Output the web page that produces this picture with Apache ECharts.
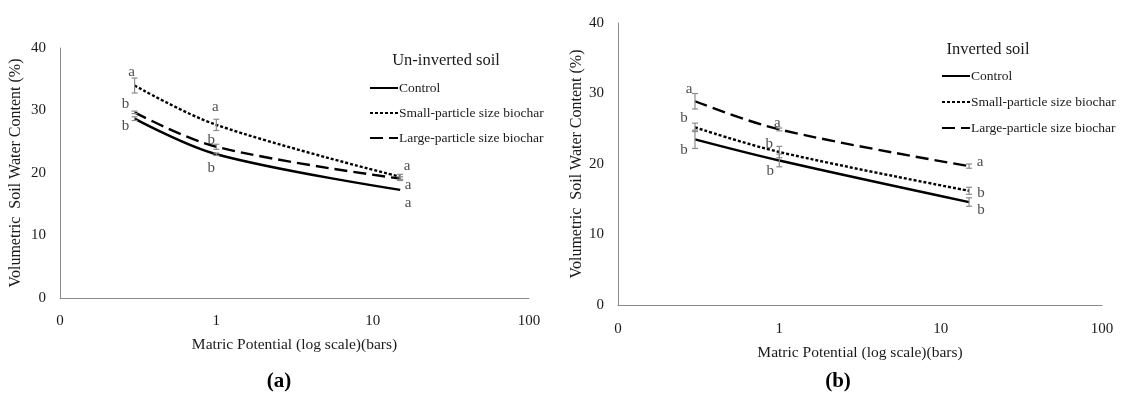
<!DOCTYPE html>
<html>
<head>
<meta charset="utf-8">
<script src="https://cdn.jsdelivr.net/npm/echarts@6/dist/echarts.min.js"></script>
<style>
  html, body { margin: 0; padding: 0; background: #fff; }
  #chart { width: 1124px; height: 397px; }
</style>
</head>
<body>
<div id="chart"></div>
<script>
// matric potential (bars), shared by both panels
const potentials = [0.3, 1, 15];
const seriesNames = ['Control', 'Small-particle size biochar', 'Large-particle size biochar'];

// (a) un-inverted soil
const unControl = [28.7, 23.0, 17.3];
const unSmall = [34.0, 27.7, 19.4];
const unLarge = [29.7, 24.2, 19.1];
const unControlErr = [0.3, 0.2, 0];
const unSmallErr = [1.2, 0.9, 0.4];
const unLargeErr = [0.2, 0.4, 0.3];
const unControlLetters = ['b', 'b', 'a'];
const unSmallLetters = ['a', 'a', 'a'];
const unLargeLetters = ['b', 'b', 'a'];

// (b) inverted soil
const invControl = [23.5, 20.5, 14.6];
const invSmall = [25.2, 21.7, 16.2];
const invLarge = [28.9, 24.9, 19.7];
const invControlErr = [1.3, 0.9, 0.6];
const invSmallErr = [0.6, 0.8, 0.5];
const invLargeErr = [1.1, 0.2, 0.3];
const invControlLetters = ['b', 'b', 'b'];
const invSmallLetters = ['b', 'b', 'b'];
const invLargeLetters = ['a', 'a', 'a'];

// pixel offsets of the significance letters from their points
const unOffsets = {
  control: [[-9, 7], [-5, 14], [8, 13]],
  small: [[-3, -13], [-1, -18], [7, -11]],
  large: [[-9, -8], [-5, -7], [8, 6]]
};
const invOffsets = {
  control: [[-11, 11], [-9, 11], [12, 8]],
  small: [[-11, -9], [-10, -8], [12, 2]],
  large: [[-6, -12], [-2, -6], [11, -4]]
};

const FONT = '"Liberation Serif", "DejaVu Serif", serif';
const TXT = '#1a1a1a';
const lineStyles = [
  { type: 'solid' },
  { type: [3, 2] },
  { type: [13, 6] }
];

function pairs(ys) {
  return potentials.map((x, i) => [x, ys[i]]);
}

function xAxis(gi, labelMargin, nameGap) {
  return {
    type: 'log', logBase: 10, gridIndex: gi, min: 0.1, max: 100,
    name: 'Matric Potential (log scale)(bars)', nameLocation: 'middle', nameGap: nameGap,
    nameTextStyle: { fontFamily: FONT, fontSize: 15.5, color: TXT },
    axisLine: { lineStyle: { color: '#8a8a8a', width: 1 } },
    axisTick: { show: false },
    splitLine: { show: false },
    minorSplitLine: { show: false },
    axisLabel: {
      fontFamily: FONT, fontSize: 15, color: TXT, margin: labelMargin,
      formatter: v => (v < 1 ? '0' : String(Math.round(v)))
    }
  };
}

function yAxis(gi, nameGap) {
  return {
    type: 'value', gridIndex: gi, min: 0, max: 40, interval: 10,
    name: 'Volumetric  Soil Water Content (%)', nameLocation: 'middle', nameGap: nameGap,
    nameTextStyle: { fontFamily: FONT, fontSize: 16, color: TXT },
    axisLine: { show: true, lineStyle: { color: '#8a8a8a', width: 1 } },
    axisTick: { show: false },
    splitLine: { show: false },
    axisLabel: { fontFamily: FONT, fontSize: 15, color: TXT, margin: 14 }
  };
}

function lineSeries(name, ys, idx, gi) {
  return {
    type: 'line', name: name, xAxisIndex: gi, yAxisIndex: gi,
    data: pairs(ys), smooth: 0.35, symbol: 'none', z: 3,
    lineStyle: Object.assign({ color: '#000', width: 2.4 }, lineStyles[idx]),
    itemStyle: { color: '#000' }
  };
}

function errorSeries(ys, errs, gi) {
  return {
    type: 'custom', xAxisIndex: gi, yAxisIndex: gi, z: 4, silent: true,
    data: potentials.map((x, i) => [x, ys[i], errs[i]]),
    renderItem: function (params, api) {
      const x = api.value(0), y = api.value(1), e = api.value(2);
      if (!e) return null;
      const hi = api.coord([x, y + e]);
      const lo = api.coord([x, y - e]);
      const st = { stroke: '#8c8c8c', lineWidth: 1.2 };
      return {
        type: 'group',
        children: [
          { type: 'line', shape: { x1: hi[0], y1: hi[1], x2: lo[0], y2: lo[1] }, style: st },
          { type: 'line', shape: { x1: hi[0] - 3, y1: hi[1], x2: hi[0] + 3, y2: hi[1] }, style: st },
          { type: 'line', shape: { x1: lo[0] - 3, y1: lo[1], x2: lo[0] + 3, y2: lo[1] }, style: st }
        ]
      };
    }
  };
}

function letterSeries(ys, letters, offsets, gi) {
  return {
    type: 'scatter', xAxisIndex: gi, yAxisIndex: gi, symbolSize: 1, z: 5, silent: true,
    itemStyle: { color: 'rgba(0,0,0,0)' },
    data: potentials.map((x, i) => ({
      value: [x, ys[i]],
      label: { offset: offsets[i], formatter: letters[i] }
    })),
    label: {
      show: true, position: 'inside',
      fontFamily: FONT, fontSize: 15, color: TXT
    }
  };
}

function legend(left, top, gap) {
  return {
    data: seriesNames, orient: 'vertical', left: left, top: top, padding: 0,
    itemWidth: 28, itemHeight: 14, itemGap: gap, selectedMode: false,
    itemStyle: { opacity: 0 },
    textStyle: { fontFamily: FONT, fontSize: 13.5, color: TXT, padding: [0, 0, 0, -4] }
  };
}

const chart = echarts.init(document.getElementById('chart'), null, { renderer: 'canvas' });

chart.setOption({
  animation: false,
  backgroundColor: '#fff',
  grid: [
    { left: 60, top: 48, width: 469, height: 250 },
    { left: 618, top: 23, width: 484, height: 282 }
  ],
  xAxis: [xAxis(0, 16, 39), xAxis(1, 17, 40)],
  yAxis: [yAxis(0, 36), yAxis(1, 32)],
  title: [
    { text: 'Un-inverted soil', left: 446, top: 52, textAlign: 'center', padding: 0,
      textStyle: { fontFamily: FONT, fontSize: 16.5, fontWeight: 'normal', color: TXT } },
    { text: 'Inverted soil', left: 988, top: 41, textAlign: 'center', padding: 0,
      textStyle: { fontFamily: FONT, fontSize: 16.5, fontWeight: 'normal', color: TXT } },
    { text: '(a)', left: 279, top: 371, textAlign: 'center', padding: 0,
      textStyle: { fontFamily: FONT, fontSize: 21, fontWeight: 'bold', color: '#000' } },
    { text: '(b)', left: 838, top: 371, textAlign: 'center', padding: 0,
      textStyle: { fontFamily: FONT, fontSize: 21, fontWeight: 'bold', color: '#000' } }
  ],
  legend: [legend(369, 81, 11), legend(941, 69, 12)],
  series: [
    lineSeries(seriesNames[0], unControl, 0, 0),
    lineSeries(seriesNames[1], unSmall, 1, 0),
    lineSeries(seriesNames[2], unLarge, 2, 0),
    lineSeries(seriesNames[0], invControl, 0, 1),
    lineSeries(seriesNames[1], invSmall, 1, 1),
    lineSeries(seriesNames[2], invLarge, 2, 1),
    errorSeries(unControl, unControlErr, 0),
    errorSeries(unSmall, unSmallErr, 0),
    errorSeries(unLarge, unLargeErr, 0),
    errorSeries(invControl, invControlErr, 1),
    errorSeries(invSmall, invSmallErr, 1),
    errorSeries(invLarge, invLargeErr, 1),
    letterSeries(unControl, unControlLetters, unOffsets.control, 0),
    letterSeries(unSmall, unSmallLetters, unOffsets.small, 0),
    letterSeries(unLarge, unLargeLetters, unOffsets.large, 0),
    letterSeries(invControl, invControlLetters, invOffsets.control, 1),
    letterSeries(invSmall, invSmallLetters, invOffsets.small, 1),
    letterSeries(invLarge, invLargeLetters, invOffsets.large, 1)
  ]
});

window.addEventListener('resize', () => chart.resize());
</script>
</body>
</html>
